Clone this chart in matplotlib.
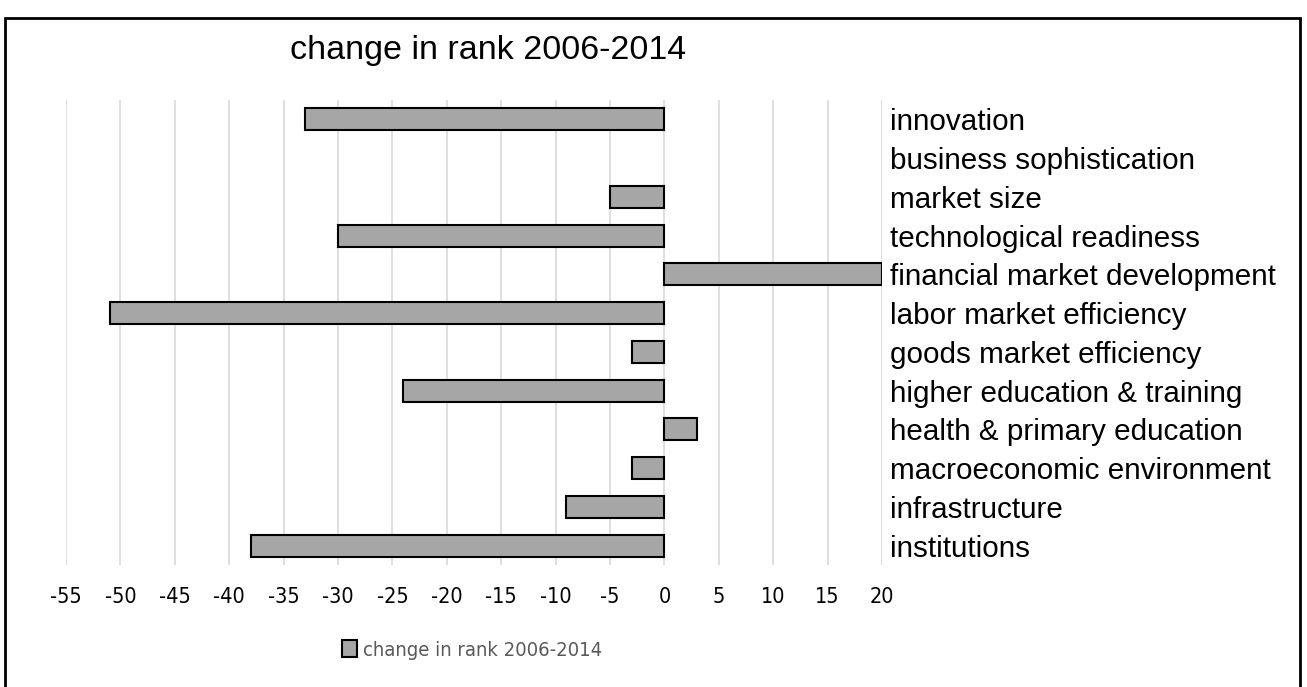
import matplotlib.pyplot as plt
from matplotlib.patches import Rectangle

categories = ['innovation', 'business sophistication', 'market size',
              'technological readiness', 'financial market development',
              'labor market efficiency', 'goods market efficiency',
              'higher education & training', 'health & primary education',
              'macroeconomic environment', 'infrastructure', 'institutions']
values = [-33, 0, -5, -30, 20, -51, -3, -24, 3, -3, -9, -38]
xticks = list(range(-55, 21, 5))

W, H = 1307, 687
narrow = ['Liberation Sans Narrow', 'DejaVu Sans']

fig = plt.figure(figsize=(W / 100, H / 100), dpi=100)
ax = fig.add_axes([66 / W, 1 - 565 / H, (882 - 66) / W, (565 - 100) / H])

ypos = list(range(len(categories)))
edges = ['black' if v != 0 else 'none' for v in values]
ax.barh(ypos, values, height=0.57, color='#a6a6a6', edgecolor=edges,
        linewidth=1.5, zorder=3, label='change in rank 2006-2014')
ax.set_ylim(len(categories) - 0.5, -0.5)
ax.set_xlim(-55, 20)

ax.set_xticks(xticks)
ax.set_xticklabels([str(t) for t in xticks], fontsize=15.5,
                   family=narrow, fontstretch='condensed')
ax.grid(axis='x', color='#d9d9d9', linewidth=1.2, zorder=0)
ax.tick_params(axis='x', length=0, pad=16)

ax.yaxis.tick_right()
ax.set_yticks(ypos)
ax.set_yticklabels(categories, fontsize=21.3, family='Liberation Sans')
ax.tick_params(axis='y', length=0, pad=6)

for s in ax.spines.values():
    s.set_visible(False)

fig.text(488 / W, 1 - 50 / H, 'change in rank 2006-2014', ha='center',
         va='center', fontsize=24.5, family='Liberation Sans')

leg = fig.legend(loc='center', bbox_to_anchor=(472 / W, 1 - 650 / H), frameon=False,
                 handlelength=0.75, handleheight=0.85, handletextpad=0.25,
                 prop={'family': narrow, 'stretch': 'condensed', 'size': 14.5})
for t in leg.get_texts():
    t.set_color('#595959')

fig.patches.append(Rectangle((5 / W, -0.01), (1300 - 5) / W, 1 - 18 / H + 0.01,
                             transform=fig.transFigure, fill=False,
                             edgecolor='black', linewidth=2))

fig.savefig('out.png', dpi=100)
